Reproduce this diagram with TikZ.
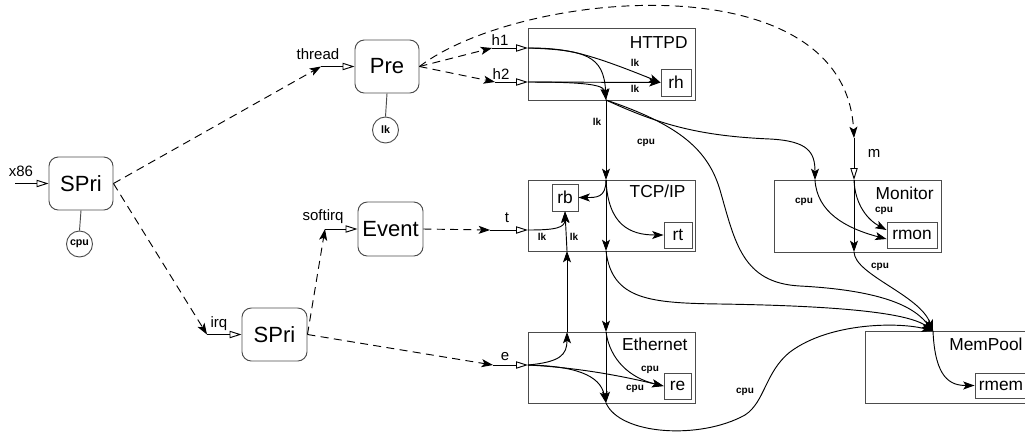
\documentclass[tikz,border=0pt]{standalone}
\usepackage{fontspec}
\setmainfont{Liberation Sans}
\usetikzlibrary{arrows.meta,fit,calc}

\tikzset{
  procbox/.style={draw=black!70, rounded corners=7pt, inner sep=0pt,
    font=\fontsize{16.5}{18}\selectfont},
  compbox/.style={draw=black!70, inner sep=0pt},
  resbox/.style={draw=black!70, inner sep=0pt, font=\fontsize{13}{15}\selectfont},
  complabel/.style={anchor=east, inner sep=0pt, font=\fontsize{13}{15}\selectfont},
  portlabel/.style={inner sep=0pt, font=\fontsize{11.25}{13}\selectfont},
  flowtag/.style={inner sep=0pt, font=\bfseries\fontsize{7.5}{9}\selectfont},
  statecircle/.style={draw=black!70, circle, minimum size=19.5pt, inner sep=0.5pt,
    font=\bfseries\fontsize{8}{9}\selectfont},
  portstub/.style={-{Triangle[open,length=9pt,width=5.5pt]}},
  flow/.style={-{Stealth[length=8.5pt,width=6pt,inset=2pt]}},
  ctlflow/.style={-{Stealth[length=8.5pt,width=6pt,inset=2pt]},
    dash pattern=on 6pt off 4pt},
}

\begin{document}
\begin{tikzpicture}[x=0.75pt,y=-0.75pt,line width=0.7pt]
\useasboundingbox (0,0) rectangle (1025,437);
\clip (0,0) rectangle (1025,437);

% ---- schedulable entities
\node[procbox, minimum width=48pt,    minimum height=39.75pt] (spri)  at (81,183.5)    {SPri};
\node[procbox, minimum width=48pt,    minimum height=39.75pt] (pre)   at (387,66.5)    {Pre};
\node[procbox, minimum width=48.75pt, minimum height=40.5pt]  (event) at (390.5,229)    {Event};
\node[procbox, minimum width=48.75pt, minimum height=39.75pt] (spriB) at (274.5,334.5)  {SPri};

\node[statecircle] (cpuA) at (79.5,244) {cpu};
\node[statecircle] (lkA)  at (385.5,130) {lk};
\draw[black!70] (spri.south) -- (cpuA.north);
\draw[black!70] (pre.south) -- (lkA.north);

% ---- components
\node[compbox, fit={(528,28) (695,100)}]   (httpd)    {};
\node[compbox, fit={(528,180) (695,251)}]  (tcpip)    {};
\node[compbox, fit={(774,180) (941,252)}]  (monitor)  {};
\node[compbox, fit={(528,332) (695,403)}]  (ethernet) {};
\node[compbox, fit={(865,331) (1031,403)}] (mempool)  {};

\node[complabel] (httpdL)    at (688,43)   {HTTPD};
\node[complabel] (tcpipL)    at (686,191)  {TCP/IP};
\node[complabel] (monitorL)  at (934,193)  {Monitor};
\node[complabel] (ethernetL) at (688,344)  {Ethernet};
\node[complabel] (mempoolL)  at (1023,344) {MemPool};

% ---- resources
\node[resbox, minimum width=22.5pt,  minimum height=20.25pt] (rh)   at (676,82.5)   {rh};
\node[resbox, minimum width=19.5pt,  minimum height=20.25pt] (rb)   at (565,197.5)  {rb};
\node[resbox, minimum width=21pt,    minimum height=19.5pt]  (rt)   at (678,235)    {rt};
\node[resbox, minimum width=37.5pt,  minimum height=19.5pt]  (rmon) at (912,235)    {rmon};
\node[resbox, minimum width=20.25pt, minimum height=19.5pt]  (re)   at (677.5,386)  {re};
\node[resbox, minimum width=39pt,    minimum height=18.75pt] (rmem) at (1001,385.5) {rmem};

% ---- interface ports (stub start, boundary point)
\coordinate (x86s)  at (15,183.5);
\coordinate (threads) at (321,66.5);
\coordinate (softs) at (325,229);
\coordinate (irqs)  at (207,334.5);
\coordinate (h1s) at (492,48);   \coordinate (h1p) at (528,48);
\coordinate (h2s) at (495,82);   \coordinate (h2p) at (528,82);
\coordinate (ts)  at (490,230);  \coordinate (tp)  at (528,230);
\coordinate (es)  at (493,365);  \coordinate (ep)  at (528,365);
\coordinate (ms)  at (854,138);  \coordinate (mp)  at (854,180);

% ---- crossing points on component borders
\coordinate (hJ)     at (606,100);
\coordinate (tTop)   at (606,180);
\coordinate (tBot)   at (606,251);
\coordinate (tB2)    at (567,251);
\coordinate (eTop)   at (606,332);
\coordinate (eT2)    at (567,332);
\coordinate (eBot)   at (606,403);
\coordinate (monTop) at (815,180);
\coordinate (monBot) at (854,252);
\coordinate (memTop) at (933,331);

% ---- port stubs
\draw[portstub] (x86s) -- (spri.west);
\draw[portstub] (threads) -- (pre.west);
\draw[portstub] (softs) -- (event.west);
\draw[portstub] (irqs) -- (spriB.west);
\draw[portstub] (h1s) -- (h1p);
\draw[portstub] (h2s) -- (h2p);
\draw[portstub] (ts) -- (tp);
\draw[portstub] (es) -- (ep);
\draw[portstub] (ms) -- (mp);

\node[portlabel] (x86L)    at (21,171)  {x86};
\node[portlabel] (threadL) at (318,54)  {thread};
\node[portlabel] (h1L)     at (500,40)  {h1};
\node[portlabel] (h2L)     at (501,74)  {h2};
\node[portlabel] (softL)   at (323,217) {softirq};
\node[portlabel] (tL)      at (507,218) {t};
\node[portlabel] (irqL)    at (219,324) {irq};
\node[portlabel] (eL)      at (505,357) {e};
\node[portlabel] (mL)      at (874,153) {m};

% ---- thread / interrupt activations
\draw[ctlflow] (spri.east) -- (threads);
\draw[ctlflow] (spri.east) -- (irqs);
\draw[ctlflow] (pre.east) -- (h1s);
\draw[ctlflow] (pre.east) -- (h2s);
\draw[ctlflow] (pre.east) .. controls (520,-10) and (845,-40) .. (ms);
\draw[ctlflow] (event.east) -- (ts);
\draw[ctlflow] (spriB.east) -- (softs);
\draw[ctlflow] (spriB.east) -- (es);

% ---- HTTPD
\draw[flow] (h1p) .. controls (585,50) and (604,55) .. (hJ);
\draw[flow] (h1p) .. controls (565,48) and (585,52) .. (rh.west);
\draw[flow] (h2p) -- (rh.west);
\draw[flow] (h2p) .. controls (595,82) and (604,86) .. (hJ);
\draw[flow] (hJ) -- (tTop);
\draw[flow] (hJ) .. controls (660,125) and (700,136) .. (770,139)
               .. controls (808,141) and (815,152) .. (monTop);
\draw[flow] (hJ) .. controls (680,125) and (708,150) .. (720,190)
               .. controls (735,242) and (742,283) .. (800,286)
               .. controls (895,291) and (918,312) .. (memTop);

% ---- TCP/IP
\draw[flow] (tTop) .. controls (606,198) and (596,197.5) .. (rb.east);
\draw[flow] (tTop) .. controls (608,225) and (630,235) .. (rt.west);
\draw[flow] (tTop) -- (tBot);
\draw[flow] (tp) .. controls (555,230) and (565,228) .. (rb.south);
\draw[flow] (tB2) -- (rb.south);
\draw[flow] (tBot) -- (eTop);
\draw[flow] (tBot) .. controls (612,300) and (650,303) .. (720,304)
                 .. controls (850,306) and (910,314) .. (memTop);

% ---- Ethernet
\draw[flow] (ep) .. controls (560,362) and (567,355) .. (eT2);
\draw[flow] (eT2) -- (tB2);
\draw[flow] (ep) .. controls (585,368) and (630,378) .. (re.west);
\draw[flow] (ep) .. controls (575,366) and (600,375) .. (eBot);
\draw[flow] (eTop) -- (eBot);
\draw[flow] (eTop) .. controls (610,360) and (630,378) .. (re.west);
\draw[flow] (eBot) .. controls (620,435) and (700,440) .. (745,415)
                 .. controls (765,402) and (765,372) .. (790,352)
                 .. controls (830,322) and (900,322) .. (memTop);

% ---- Monitor
\draw[flow] (mp) .. controls (855,205) and (868,220) .. ($(rmon.west)+(0,-5)$);
\draw[flow] (monTop) .. controls (817,212) and (845,228) .. ($(rmon.west)+(0,4)$);
\draw[flow] (mp) -- (monBot);
\draw[flow] (monBot) .. controls (855,275) and (920,295) .. (memTop);

% ---- MemPool
\draw[flow] (memTop) .. controls (935,378) and (950,385.5) .. (rmem.west);

% ---- flow tags
\node[flowtag] (tag1)  at (635,63)  {lk};
\node[flowtag] (tag2)  at (635,89)  {lk};
\node[flowtag] (tag3)  at (597,122) {lk};
\node[flowtag] (tag4)  at (646,143) {cpu};
\node[flowtag] (tag5)  at (542,237) {lk};
\node[flowtag] (tag6)  at (574,237) {lk};
\node[flowtag] (tag7)  at (804,202) {cpu};
\node[flowtag] (tag8)  at (884,211) {cpu};
\node[flowtag] (tag9)  at (880,267) {cpu};
\node[flowtag] (tag10) at (650,370) {cpu};
\node[flowtag] (tag11) at (635,389) {cpu};
\node[flowtag] (tag12) at (745,392) {cpu};
\end{tikzpicture}
\end{document}
